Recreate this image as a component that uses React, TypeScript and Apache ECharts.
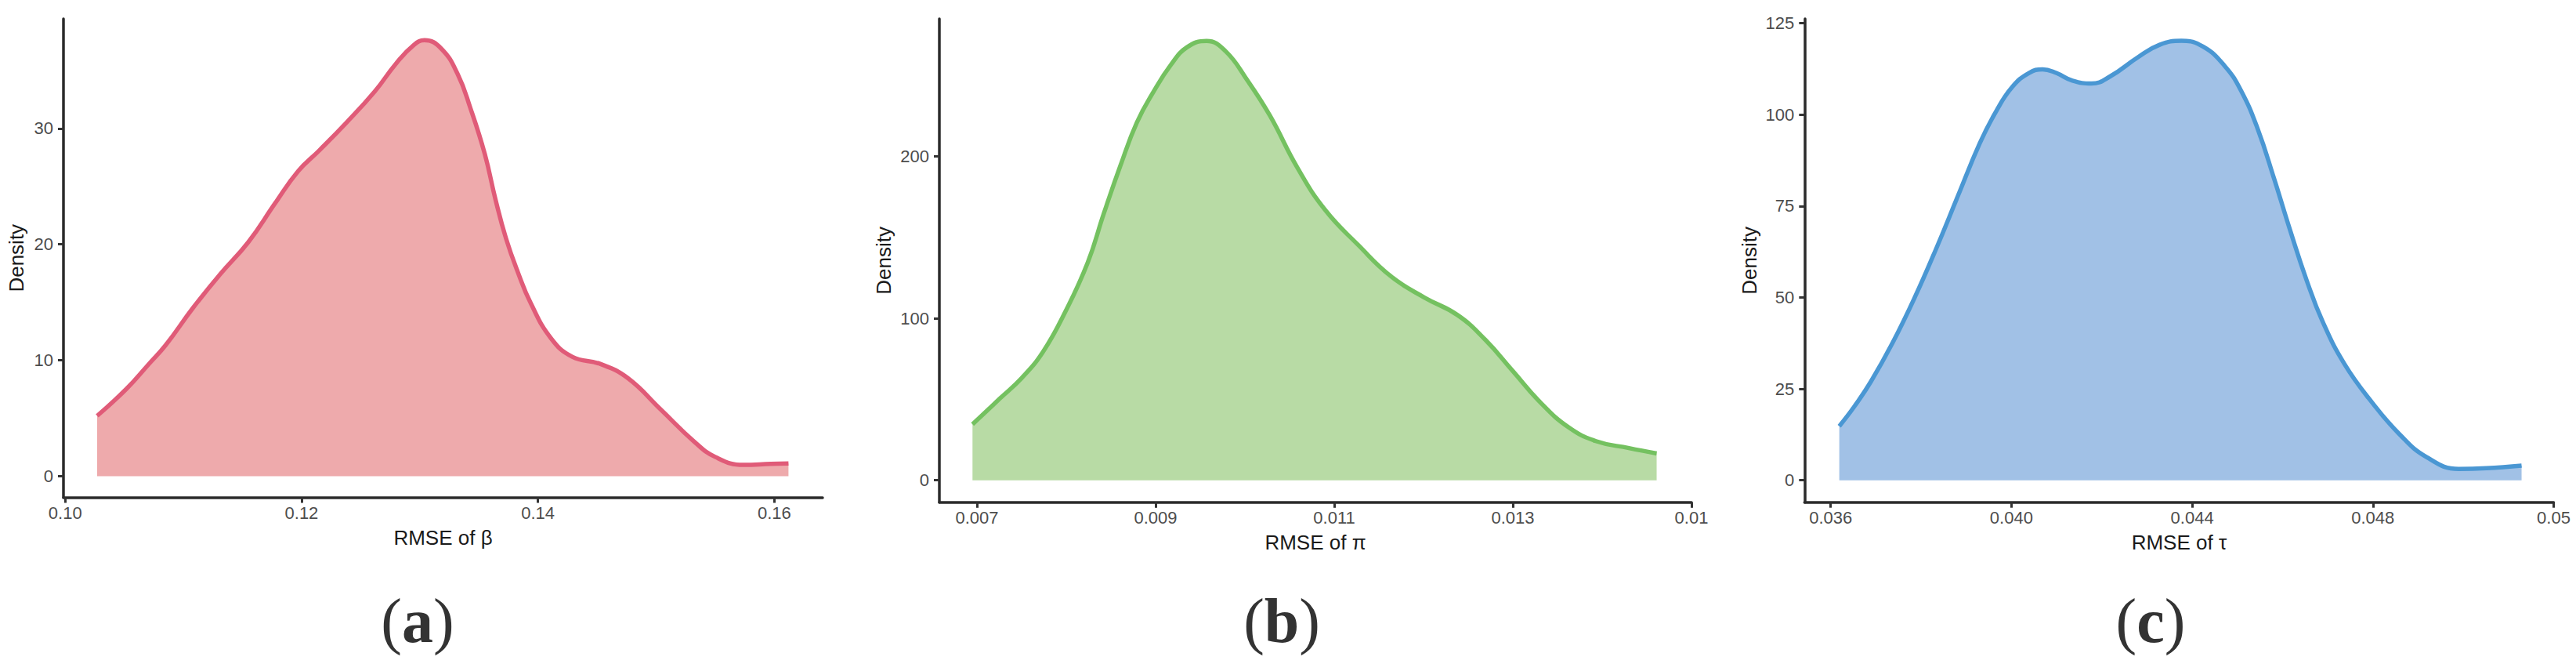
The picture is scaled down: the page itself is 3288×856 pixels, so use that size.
import React, { useEffect, useRef } from "react";
import * as echarts from "echarts";

// ---- Panel (a): RMSE of beta ----
const X_A = [0.1027, 0.1052, 0.1071, 0.1085, 0.1108, 0.1131, 0.1155, 0.1178, 0.1197, 0.1215, 0.1238, 0.1262, 0.128, 0.1295, 0.1304, 0.1318, 0.1332, 0.1343, 0.1355, 0.1364, 0.1373, 0.1383, 0.1394, 0.1411, 0.1429, 0.1453, 0.1476, 0.1504, 0.1532, 0.155, 0.1574, 0.1597, 0.1612];
const Y_A = [5.2, 7.55, 9.7, 11.3, 14.5, 17.4, 20.2, 23.6, 26.3, 28.1, 30.5, 33.2, 35.6, 37.2, 37.6, 36.9, 34.7, 31.7, 27.8, 23.9, 20.5, 17.6, 14.9, 11.9, 10.3, 9.67, 8.46, 5.74, 3.0, 1.66, 0.97, 1.06, 1.1];
const XTICKS_A = [0.1, 0.12, 0.14, 0.16];
const XLABELS_A = ["0.10", "0.12", "0.14", "0.16"];
const YTICKS_A = [0, 10, 20, 30];

// ---- Panel (b): RMSE of pi ----
const X_B = [0.00695, 0.00725, 0.0075, 0.00774, 0.00799, 0.00824, 0.00842, 0.00861, 0.00879, 0.00898, 0.00917, 0.00935, 0.00957, 0.00978, 0.01003, 0.01028, 0.01059, 0.0109, 0.01127, 0.01164, 0.01201, 0.01238, 0.01269, 0.013, 0.01331, 0.01362, 0.01393, 0.0143, 0.01461];
const Y_B = [34.6, 50.2, 63.1, 79.4, 104.2, 134.5, 164.8, 195, 221, 240.4, 256.6, 267.5, 271.4, 265.3, 246.9, 225.3, 192.9, 166.9, 145.3, 125.8, 112.9, 102.1, 86.9, 67.5, 48, 32.9, 24.2, 19.9, 16.6];
const XTICKS_B = [0.007, 0.009, 0.011, 0.013, 0.015];
const XLABELS_B = ["0.007", "0.009", "0.011", "0.013", "0.01"];
const YTICKS_B = [0, 100, 200];

// ---- Panel (c): RMSE of tau ----
const X_C = [0.03619, 0.03653, 0.03689, 0.03737, 0.03786, 0.03834, 0.03882, 0.0393, 0.03966, 0.04002, 0.04039, 0.04069, 0.04099, 0.04135, 0.04177, 0.04219, 0.0428, 0.04328, 0.04376, 0.04424, 0.04472, 0.04508, 0.04545, 0.04581, 0.04617, 0.04653, 0.04689, 0.04737, 0.04798, 0.04858, 0.04918, 0.0499, 0.05051, 0.05129];
const Y_C = [14.8, 20.3, 27.0, 37.6, 50.0, 63.5, 77.9, 92.2, 100.9, 107.6, 111.4, 112.4, 111.4, 109.3, 108.5, 110.5, 115.7, 119.1, 120.2, 118.6, 113.3, 106.6, 96.1, 82.6, 68.3, 54.8, 43.3, 31.8, 21.3, 12.7, 6.4, 3.1, 3.3, 4.0];
const XTICKS_C = [0.036, 0.04, 0.044, 0.048, 0.052];
const XLABELS_C = ["0.036", "0.040", "0.044", "0.048", "0.05"];
const YTICKS_C = [0, 25, 50, 75, 100, 125];

const X_TITLES = ["RMSE of β", "RMSE of π", "RMSE of τ"];
const Y_TITLE = "Density";
const PANEL_TAGS = ["a", "b", "c"];

const SANS = "Liberation Sans, Arial, sans-serif";
const AXIS_COLOR = "#2b2b2b";
const TICK_COLOR = "#333333";
const LABEL_COLOR = "#4d4d4d";

function labelFor(ticks: number[], labels: string[]) {
  return (v: number) => {
    const i = ticks.findIndex((t) => Math.abs(t - v) < 1e-9);
    return i >= 0 ? labels[i] : "";
  };
}

export default function App() {
  const ref = useRef<HTMLDivElement>(null);

  useEffect(() => {
    if (!ref.current) return;
    const chart = echarts.init(ref.current, undefined, { renderer: "svg" });

    const panels = [
      { x: X_A, y: Y_A, xt: XTICKS_A, xl: XLABELS_A, yt: YTICKS_A, xmin: 0.09985, xmax: 0.16409, ymin: -1.83, ymax: 39.45,
        grid: { left: 81, top: 24, width: 969, height: 610.5 }, line: "#e05b78", fill: "#eeaaac", yGap: 47, xGap: 38, tagX: 533 },
      { x: X_B, y: Y_B, xt: XTICKS_B, xl: XLABELS_B, yt: YTICKS_B, xmin: 0.006579, xmax: 0.015, ymin: -13.6, ymax: 285.1,
        grid: { left: 1199, top: 24, width: 960, height: 616.8 }, line: "#74c160", fill: "#b8dba5", yGap: 58, xGap: 38, tagX: 1636 },
      { x: X_C, y: Y_C, xt: XTICKS_C, xl: XLABELS_C, yt: YTICKS_C, xmin: 0.035421, xmax: 0.052, ymin: -6.0, ymax: 126.2,
        grid: { left: 2303.3, top: 24, width: 956.2, height: 616.7 }, line: "#4a97d3", fill: "#a1c1e6", yGap: 57, xGap: 38, tagX: 2745 },
    ];

    const axisLine = { show: true, onZero: false, lineStyle: { color: AXIS_COLOR, width: 3.5 } };
    const axisTick = { show: true, length: 7, lineStyle: { color: TICK_COLOR, width: 3 } };

    const option: any = {
      animation: false,
      backgroundColor: "#ffffff",
      grid: panels.map((p) => ({ ...p.grid, containLabel: false, outerBoundsMode: "none" })),
      xAxis: panels.map((p, i) => ({
        type: "value",
        gridIndex: i,
        min: p.xmin,
        max: p.xmax,
        axisLine,
        axisTick: { ...axisTick, customValues: p.xt },
        axisLabel: {
          customValues: p.xt,
          formatter: labelFor(p.xt, p.xl),
          fontFamily: SANS,
          fontSize: 22,
          color: LABEL_COLOR,
          margin: 9,
        },
        splitLine: { show: false },
        name: X_TITLES[i],
        nameLocation: "middle",
        nameGap: p.xGap,
        nameTextStyle: { fontFamily: SANS, fontSize: 26, color: "#1a1a1a" },
      })),
      yAxis: panels.map((p, i) => ({
        type: "value",
        gridIndex: i,
        min: p.ymin,
        max: p.ymax,
        axisLine,
        axisTick: { ...axisTick, customValues: p.yt },
        axisLabel: {
          customValues: p.yt,
          formatter: (v: number) => String(v),
          fontFamily: SANS,
          fontSize: 22,
          color: LABEL_COLOR,
          margin: 13,
        },
        splitLine: { show: false },
        name: Y_TITLE,
        nameLocation: "middle",
        nameRotate: 90,
        nameGap: p.yGap,
        nameTextStyle: { fontFamily: SANS, fontSize: 26, color: "#1a1a1a" },
      })),
      series: panels.map((p, i) => ({
        type: "line",
        xAxisIndex: i,
        yAxisIndex: i,
        data: p.x.map((xv, k) => [xv, p.y[k]]),
        showSymbol: false,
        smooth: 0.45,
        lineStyle: { color: p.line, width: 5.5 },
        itemStyle: { color: p.line },
        areaStyle: { color: p.fill, opacity: 1, origin: 0 },
        z: 2,
      })),
      graphic: panels.map((p, i) => ({
        type: "text",
        x: p.tagX,
        y: 792,
        style: {
          text: "{p|(}{b|" + PANEL_TAGS[i] + "}{p|)}",
          align: "center",
          verticalAlign: "middle",
          rich: {
            p: { fontFamily: "Liberation Serif, serif", fontSize: 80, fontWeight: "normal", fill: "#333333" },
            b: { fontFamily: "Liberation Serif, serif", fontSize: 80, fontWeight: "bold", fill: "#333333" },
          },
        },
      })),
    };

    chart.setOption(option);
    return () => chart.dispose();
  }, []);

  return (
    <div
      ref={ref}
      style={{ position: "absolute", left: 0, top: 0, width: 3288, height: 856, background: "#fff" }}
    />
  );
}
